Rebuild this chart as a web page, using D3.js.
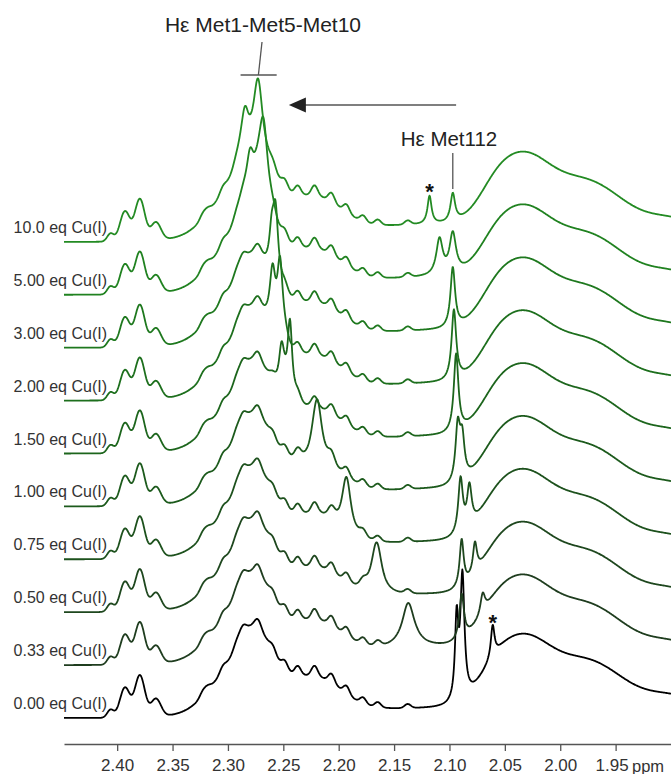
<!DOCTYPE html>
<html>
<head>
<meta charset="utf-8">
<script src="https://cdn.jsdelivr.net/npm/d3@7"></script>
<style>
  body { margin: 0; background: #fff; }
  text { font-family: "Liberation Sans", Arial, sans-serif; }
</style>
</head>
<body>
<script>
// #Size of the picture
const width = 671, height = 774;

// #Titration points, bottom spectrum first
const labels = ['0.00 eq Cu(I)', '0.33 eq Cu(I)', '0.50 eq Cu(I)', '0.75 eq Cu(I)', '1.00 eq Cu(I)',
                '1.50 eq Cu(I)', '2.00 eq Cu(I)', '3.00 eq Cu(I)', '5.00 eq Cu(I)', '10.0 eq Cu(I)'];

const ppmTicks = [2.40, 2.35, 2.30, 2.25, 2.20, 2.15, 2.10, 2.05, 2.00, 1.95];

// #Signals found in every spectrum, [ppm, height, sd] (gaussian)
const commonBroad = [
    [2.278, 60, 0.016], [2.26, 32, 0.04], [2.215, 18, 0.02], [2.31, 15, 0.015],
    [2.06, 15, 0.015], [2.035, 60, 0.024], [1.975, 52, 0.035], [1.895, 18, 0.025]
];
const commonMultiplet = [[2.406, 8, 0.003], [2.393, 30, 0.0045], [2.3795, 42, 0.0045], [2.365, 18, 0.0045]];
const commonRipples = [
    [2.3226, 5, 0.0028], [2.318, 4, 0.0028], [2.3046, 5, 0.0028], [2.292, 5, 0.0028],
    [2.2865, 8, 0.0028], [2.273, 8, 0.0028], [2.2594, 6, 0.0028], [2.2487, 8, 0.0028],
    [2.237, 9, 0.0028], [2.2218, 10, 0.0028], [2.2065, 9, 0.0028], [2.193, 8, 0.0028],
    [2.178, 6, 0.0028], [2.1647, 5, 0.0028], [2.1377, 4, 0.0028]
];
// baseline lift centred on 2.10 ppm, one per spectrum
const backgroundLevel = [10, 18, 18, 18, 18, 18, 18, 18, 18, 18];

// #Signals that move or change, [ppm, height, half width] (lorentzian)
const metShifted = [
    [],
    [[2.137, 41, 0.0075]],
    [[2.166, 48, 0.006]],
    [[2.193, 45, 0.005]],
    [[2.219, 55, 0.005]],
    [[2.2516, 44, 0.003], [2.244, 78, 0.0025]],
    [[2.2597, 49, 0.003], [2.253, 76, 0.003]],
    [[2.2605, 30, 0.0025], [2.257, 68, 0.003]],
    [[2.280, 40, 0.004], [2.268, 86, 0.005]],
    [[2.2845, 32, 0.004], [2.2727, 60, 0.005]]
];
const met112 = [
    [[2.0935, 80, 0.0018], [2.0883, 122, 0.0022]],
    [[2.089, 45, 0.0025], [2.070, 20, 0.0025]],
    [[2.089, 47, 0.0022], [2.077, 30, 0.0022]],
    [[2.090, 55, 0.0025], [2.082, 40, 0.0025]],
    [[2.0925, 55, 0.0025], [2.0885, 40, 0.0025]],
    [[2.094, 78, 0.0025]],
    [[2.096, 70, 0.0025]],
    [[2.097, 60, 0.0025]],
    [[2.109, 36, 0.0035], [2.097, 40, 0.0035]],
    [[2.097, 28, 0.0025]]
];
const starred = [[[2.061, 32, 0.002]], [], [], [], [], [], [], [], [], [[2.118, 28, 0.0022]]];

// #Line colours, black to green
const lineColors = ['#000000', '#1f3d1f', '#1e471e', '#1d511d', '#1c5a1c',
                    '#1c651c', '#1d6f1d', '#1e781e', '#208220', '#238b23'];

const svg = d3.select('body')
              .append('svg')
              .attr('width', width)
              .attr('height', height);

// #Scales
const x = d3.scaleLinear().domain([2.448, 1.900]).range([64, 671]);
const stack = d3.scalePoint().domain(labels).range([718, 242]);
const yI = d3.scaleLinear().domain([0, 100]).range([0, -100]);

// #Line shapes
const gauss = (p, [c, h, s]) => h * Math.exp(-0.5 * ((p - c) / s) ** 2);
const lorentz = (p, [c, h, w]) => h / (1 + ((p - c) / w) ** 2);

const ppmGrid = d3.range(1.900, 2.4482, 0.0004);

const spectrum = i => ppmGrid.map(p => {
    let v = gauss(p, [2.10, backgroundLevel[i], 0.1]);
    commonBroad.concat(commonMultiplet, commonRipples).forEach(g => { v += gauss(p, g); });
    metShifted[i].concat(met112[i], starred[i]).forEach(l => { v += lorentz(p, l); });
    return [p, v];
});

const line = d3.line()
               .x(d => x(d[0]))
               .y(d => yI(d[1]));

// #Draw spectra
const rows = svg.append('g')
                .selectAll('g')
                .data(labels)
                .enter()
                .append('g')
                .attr('transform', d => 'translate(0,' + stack(d) + ')');

rows.append('path')
    .attr('d', (d, i) => line(spectrum(i)))
    .attr('fill', 'none')
    .attr('stroke', (d, i) => lineColors[i])
    .attr('stroke-width', 1.8)
    .attr('stroke-linejoin', 'round');

rows.append('text')
    .attr('x', 107)
    .attr('y', -9)
    .attr('text-anchor', 'end')
    .attr('font-size', 16)
    .attr('fill', '#333')
    .text(d => d);

// #Axis
const axis = svg.append('g')
                .attr('transform', 'translate(0,744)')
                .call(d3.axisBottom(x)
                        .tickValues(ppmTicks)
                        .tickFormat(d3.format('.2f'))
                        .tickSize(7)
                        .tickSizeOuter(0)
                        .tickPadding(8));
axis.select('.domain').attr('stroke', '#555').attr('stroke-width', 1.3);
axis.selectAll('.tick line').attr('stroke', '#555').attr('stroke-width', 1.3);
axis.selectAll('.tick text')
    .attr('font-size', 17)
    .attr('fill', '#333')
    .style('font-family', '"Liberation Sans", Arial, sans-serif');
// last label sits a little left to make room for the unit
axis.selectAll('.tick text')
    .filter(d => d === 1.95)
    .attr('dx', -4);

svg.append('text')
   .attr('x', 632)
   .attr('y', 772)
   .attr('font-size', 16.5)
   .attr('fill', '#333')
   .text('ppm');

// #Annotations
svg.append('text')
   .attr('x', 263)
   .attr('y', 32)
   .attr('text-anchor', 'middle')
   .attr('font-size', 21)
   .attr('fill', '#222')
   .text('H\u03b5 Met1-Met5-Met10');

svg.append('line')
   .attr('x1', x(2.2886)).attr('x2', x(2.256))
   .attr('y1', 75).attr('y2', 75)
   .attr('stroke', '#555').attr('stroke-width', 1.3);
svg.append('line')
   .attr('x1', 262).attr('x2', x(2.2725))
   .attr('y1', 42).attr('y2', 75)
   .attr('stroke', '#555').attr('stroke-width', 1.3);

svg.append('line')
   .attr('x1', x(2.094)).attr('x2', x(2.232))
   .attr('y1', 105).attr('y2', 105)
   .attr('stroke', '#555').attr('stroke-width', 1.5);
const tip = x(2.245);
svg.append('path')
   .attr('d', 'M' + tip + ',105 L' + (tip + 17) + ',97.5 L' + (tip + 17) + ',112.5 Z')
   .attr('fill', '#222');

svg.append('text')
   .attr('x', 449)
   .attr('y', 146)
   .attr('text-anchor', 'middle')
   .attr('font-size', 20.5)
   .attr('fill', '#222')
   .text('H\u03b5 Met112');
svg.append('line')
   .attr('x1', x(2.097)).attr('x2', x(2.097))
   .attr('y1', 153).attr('y2', 189)
   .attr('stroke', '#555').attr('stroke-width', 1.3);

svg.append('text')
   .attr('x', x(2.118))
   .attr('y', 199)
   .attr('text-anchor', 'middle')
   .attr('font-size', 22)
   .attr('font-weight', 'bold')
   .attr('fill', '#111')
   .text('*');
svg.append('text')
   .attr('x', x(2.061))
   .attr('y', 630)
   .attr('text-anchor', 'middle')
   .attr('font-size', 22)
   .attr('font-weight', 'bold')
   .attr('fill', '#111')
   .text('*');
</script>
</body>
</html>
